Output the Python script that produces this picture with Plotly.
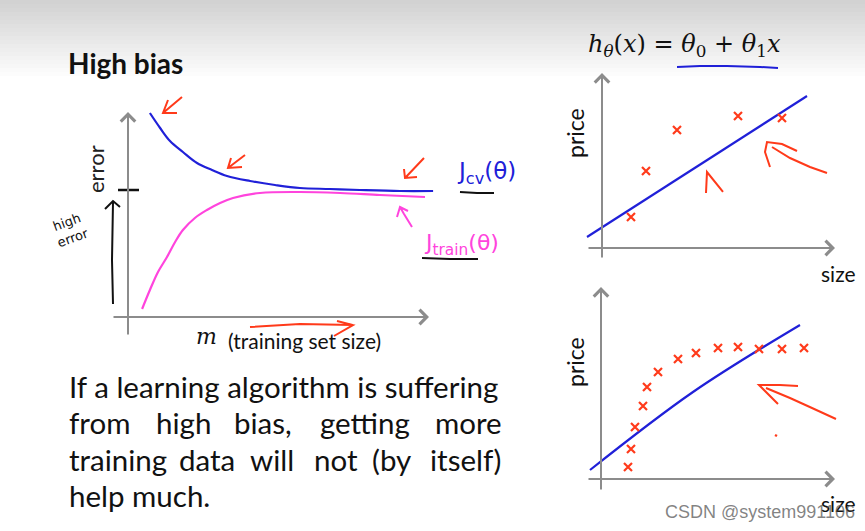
import plotly.graph_objects as go

W, H = 865, 531

# ---------------- data ----------------
# Left: learning curves (m = training set size, error)
m_cv = [0.73, 1.07, 1.4, 1.83, 2.3, 2.8, 3.3, 4.07, 4.9, 5.73, 6.73, 7.73, 9.07, 10.17]
j_cv = [10.2, 9.45, 8.8, 8.25, 7.7, 7.35, 7.05, 6.8, 6.6, 6.45, 6.4, 6.35, 6.3, 6.3]
m_train = [0.47, 0.73, 1.0, 1.3, 1.57, 1.83, 2.23, 2.63, 3.07, 3.5, 4.4, 5.73, 7.07, 8.4, 9.9]
j_train = [0.4, 1.35, 2.25, 3.0, 3.75, 4.35, 4.95, 5.35, 5.7, 5.95, 6.2, 6.25, 6.2, 6.1, 6.0]

# Top right: few points + linear fit
size_a = [1.45, 2.2, 3.75, 6.8, 9.0]
price_a = [2.07, 5.13, 7.87, 8.8, 8.67]
fit_a_x = [-0.75, 10.25]
fit_a_y = [0.73, 10.13]

# Bottom right: many points + linear fit
size_b = [1.35, 1.5, 1.7, 2.1, 2.3, 2.85, 3.85, 4.75, 5.85, 6.85, 7.9, 9.05, 10.15]
price_b = [0.8, 2.0, 3.47, 4.87, 6.13, 7.13, 8.0, 8.4, 8.73, 8.8, 8.67, 8.67, 8.73]
fit_b_x = [-0.55, 4.6, 9.95]
fit_b_y = [0.6, 5.8, 10.27]

title_text = "High bias"
formula = "<i>h</i><sub><i>θ</i></sub>(<i>x</i>) = <i>θ</i><sub>0</sub> + <i>θ</i><sub>1</sub><i>x</i>"
body_lines = [
    ["If a learning algorithm is suffering"],
    ["from", "high", "bias,", "getting", "more"],
    ["training", "data", "will", "not", "(by", "itself)"],
    ["help much."],
]

# ---------------- helpers ----------------
def fx(x):
    return x / W

def fy(y):
    return 1 - y / H

BLUE = "#2020d8"
MAG = "#ff44dd"
RED = "#ff3a1a"
GRAY = "#8c8c8c"
FONT = "Lato"

fig = go.Figure()

fig.add_trace(go.Scatter(x=m_cv, y=j_cv, mode="lines", line=dict(color=BLUE, width=2.2, shape="spline"),
                         xaxis="x", yaxis="y", hoverinfo="skip"))
fig.add_trace(go.Scatter(x=m_train, y=j_train, mode="lines", line=dict(color=MAG, width=2.2, shape="spline"),
                         xaxis="x", yaxis="y", hoverinfo="skip"))
fig.add_trace(go.Scatter(x=fit_a_x, y=fit_a_y, mode="lines", line=dict(color=BLUE, width=2.2),
                         xaxis="x2", yaxis="y2", hoverinfo="skip"))
fig.add_trace(go.Scatter(x=size_a, y=price_a, mode="markers",
                         marker=dict(symbol="x-thin", size=8, line=dict(width=2.2, color=RED)),
                         xaxis="x2", yaxis="y2", hoverinfo="skip"))
fig.add_trace(go.Scatter(x=fit_b_x, y=fit_b_y, mode="lines", line=dict(color=BLUE, width=2.2, shape="spline"),
                         xaxis="x3", yaxis="y3", hoverinfo="skip"))
fig.add_trace(go.Scatter(x=size_b, y=price_b, mode="markers",
                         marker=dict(symbol="x-thin", size=8, line=dict(width=2.2, color=RED)),
                         xaxis="x3", yaxis="y3", hoverinfo="skip"))

def axis_pair(ox, oy, sx, sy, x0, x1, y0, y1):
    xa = dict(domain=[fx(x0), fx(x1)], range=[(x0 - ox) / sx, (x1 - ox) / sx],
              visible=False, fixedrange=True)
    ya = dict(domain=[fy(y1), fy(y0)], range=[(oy - y1) / sy, (oy - y0) / sy],
              visible=False, fixedrange=True)
    return xa, ya

L_O = (128, 317)
A_O = (602, 248)
B_O = (601, 479)
xa1, ya1 = axis_pair(L_O[0], L_O[1], 30, 20, 100, 450, 100, 345)
xa2, ya2 = axis_pair(A_O[0], A_O[1], 20, 15, 580, 845, 65, 262)
xa3, ya3 = axis_pair(B_O[0], B_O[1], 20, 15, 580, 845, 280, 495)
ya1["anchor"] = "x"; xa1["anchor"] = "y"
xa2["anchor"] = "y2"; ya2["anchor"] = "x2"
xa3["anchor"] = "y3"; ya3["anchor"] = "x3"

shapes = []
n = 20
for i in range(n):
    t = i / (n - 1)
    c = int(0xd2 + (0xff - 0xd2) * t)
    shapes.append(dict(type="rect", xref="paper", yref="paper", x0=0, x1=1,
                       y0=fy(i * 4 + 4), y1=fy(i * 4), fillcolor=f"rgb({c},{c},{c})",
                       line=dict(width=0), layer="below"))

def stroke(pts_list, color, width=2):
    parts = []
    for pts in pts_list:
        seg = "M " + " L ".join(f"{fx(x):.5f},{fy(y):.5f}" for x, y in pts)
        parts.append(seg)
    shapes.append(dict(type="path", xref="paper", yref="paper", path=" ".join(parts),
                       line=dict(color=color, width=width), layer="above"))

stroke([[(118, 190), (139, 190)]], "#111111", 2.5)
stroke([[(113, 304), (112, 260), (113, 202)], [(105, 209), (113, 201), (120, 207)]], "#111111", 2)
stroke([[(182, 97), (163, 113)], [(168, 100), (163, 113), (177, 113)]], RED, 2)
stroke([[(245, 155), (228, 168)], [(231, 158), (228, 168), (242, 167)]], RED, 2)
stroke([[(424, 158), (405, 178)], [(404, 169), (405, 178), (417, 177)]], RED, 2)
stroke([[(412, 227), (404, 214), (400, 207)], [(397, 217), (400, 207), (408, 211)]], MAG, 2)
stroke([[(460, 192), (477, 193), (494, 193)]], "#111111", 2)
stroke([[(422, 258), (450, 259), (478, 259)]], "#111111", 2)
stroke([[(250, 327), (300, 324), (353, 325)], [(337, 321), (353, 325), (334, 336)]], RED, 2)
stroke([[(677, 67), (700, 66), (727, 66), (760, 67), (778, 68)]], BLUE, 2)
stroke([[(706, 193), (707, 172), (723, 192)]], RED, 2)
stroke([[(770, 167), (765, 152), (767, 142), (782, 144), (797, 151)],
        [(772, 147), (790, 158), (810, 167), (827, 173)]], RED, 2)
stroke([[(798, 386), (780, 385), (759, 385), (778, 404)],
        [(766, 388), (790, 398), (812, 408), (836, 419)]], RED, 2)
stroke([[(775, 435), (777, 436)]], RED, 2.5)

annotations = []

def axis_arrow(tip, tail):
    annotations.append(dict(x=fx(tip[0]), y=fy(tip[1]), xref="paper", yref="paper",
                            ax=tail[0] - tip[0], ay=tail[1] - tip[1], axref="pixel", ayref="pixel",
                            text="", showarrow=True, arrowhead=4, arrowsize=1.4,
                            arrowwidth=2, arrowcolor=GRAY, standoff=0, startstandoff=0))

axis_arrow((128, 112), (128, 336))
axis_arrow((429, 317), (112, 317))
axis_arrow((602, 73), (602, 259))
axis_arrow((835, 248), (587, 248))
axis_arrow((601, 287), (601, 491))
axis_arrow((835, 479), (587, 479))

def txt(x, y, s, size, color="#111111", family=FONT, xanchor="left", angle=0, bold=False):
    if bold:
        s = f"<b>{s}</b>"
    annotations.append(dict(x=fx(x), y=fy(y), xref="paper", yref="paper", text=s, showarrow=False,
                            xanchor=xanchor, yanchor="middle", textangle=angle,
                            font=dict(size=size, color=color, family=family)))

txt(66, 63, title_text, 28, bold=True)
txt(684, 45, formula, 24, family="DejaVu Serif", xanchor="center")
txt(95, 169, "error", 22, color="#222222", xanchor="center", angle=-90)
txt(70, 230, "high<br>error", 13, color="#111111", family="DejaVu Sans", xanchor="center", angle=-20)
txt(206, 336, "<i>m</i>", 22, family="DejaVu Serif", xanchor="center")
txt(226, 340, "(training set size)", 21)
txt(486, 173, "J<sub>cv</sub>(θ)", 23, color=BLUE, family="DejaVu Sans", xanchor="center")
txt(462, 244, "J<sub>train</sub>(θ)", 22, color=MAG, family="DejaVu Sans", xanchor="center")
txt(575, 133, "price", 23, xanchor="center", angle=-90)
txt(838, 273, "size", 21, xanchor="center")
txt(575, 362, "price", 23, xanchor="center", angle=-90)
txt(838, 503, "size", 21, xanchor="center")

line_y = [386, 422, 459, 495]
word_x = [
    [67],
    [67, 154, 232, 318, 433],
    [67, 177, 248, 312, 370, 428],
    [67],
]
for yy, words, xs in zip(line_y, body_lines, word_x):
    for w, xx in zip(words, xs):
        txt(xx, yy, w, 29.5)

txt(663, 512, "CSDN @system991106", 18, color="rgba(90,90,90,0.75)", family="Liberation Sans")

fig.update_layout(
    width=W, height=H, margin=dict(l=0, r=0, t=0, b=0),
    paper_bgcolor="white", plot_bgcolor="rgba(0,0,0,0)",
    showlegend=False,
    xaxis=xa1, yaxis=ya1, xaxis2=xa2, yaxis2=ya2, xaxis3=xa3, yaxis3=ya3,
    shapes=shapes, annotations=annotations,
)
fig.write_html("out.html")
